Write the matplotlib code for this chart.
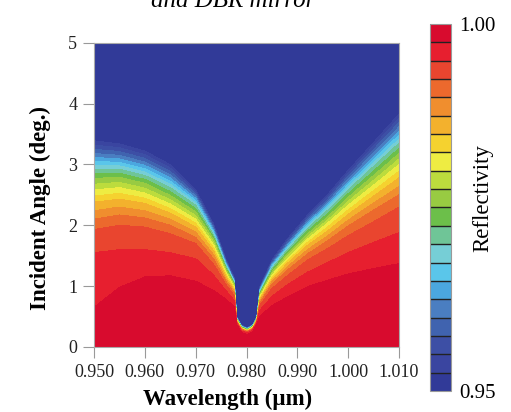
import numpy as np
import matplotlib
matplotlib.use("Agg")
import matplotlib.pyplot as plt
from matplotlib.colors import ListedColormap, BoundaryNorm
import matplotlib.cm as cm

plt.rcParams['font.family'] = 'Liberation Serif'

# wavelength columns (um)
wavelength = [0.950, 0.955, 0.960, 0.965, 0.970, 0.9735, 0.976, 0.9776, 0.9781, 0.9790, 0.9801,
              0.9812, 0.9820, 0.9826, 0.985, 0.988, 0.992, 0.996, 1.000, 1.005, 1.010]

# incident angle (deg.) where the reflectivity crosses each level, per wavelength column
ang_9975 = [0.65, 0.98, 1.15, 1.17, 1.08, 0.93, 0.78, 0.66, 0.36, 0.24, 0.20, 0.25, 0.37, 0.50, 0.68, 0.82, 0.99, 1.10, 1.20, 1.29, 1.37]
ang_9950 = [1.55, 1.60, 1.60, 1.55, 1.45, 1.18, 0.92, 0.76, 0.385, 0.265, 0.225, 0.275, 0.395, 0.60, 0.83, 1.02, 1.23, 1.39, 1.55, 1.72, 1.88]
ang_9925 = [1.93, 2.00, 1.97, 1.86, 1.70, 1.36, 1.02, 0.84, 0.40, 0.28, 0.24, 0.29, 0.41, 0.68, 0.96, 1.17, 1.43, 1.62, 1.83, 2.06, 2.30]
ang_9900 = [2.10, 2.17, 2.12, 2.00, 1.80, 1.45, 1.07, 0.88, 0.41, 0.29, 0.25, 0.30, 0.42, 0.725, 1.03, 1.26, 1.53, 1.75, 1.99, 2.25, 2.50]
ang_9850 = [2.38, 2.43, 2.36, 2.20, 1.97, 1.58, 1.15, 0.93, 0.425, 0.30, 0.26, 0.31, 0.435, 0.78, 1.11, 1.37, 1.67, 1.91, 2.18, 2.48, 2.78]
ang_9800 = [2.58, 2.62, 2.53, 2.35, 2.10, 1.68, 1.21, 0.98, 0.44, 0.31, 0.27, 0.32, 0.45, 0.82, 1.18, 1.45, 1.77, 2.04, 2.33, 2.66, 3.00]
ang_9750 = [2.77, 2.79, 2.69, 2.49, 2.22, 1.77, 1.27, 1.02, 0.45, 0.32, 0.28, 0.33, 0.46, 0.86, 1.23, 1.53, 1.86, 2.14, 2.46, 2.82, 3.18]
ang_9700 = [2.92, 2.92, 2.82, 2.62, 2.33, 1.84, 1.31, 1.05, 0.46, 0.33, 0.29, 0.34, 0.47, 0.895, 1.29, 1.59, 1.95, 2.25, 2.58, 2.97, 3.35]
ang_9600 = [3.18, 3.15, 3.04, 2.83, 2.48, 1.95, 1.38, 1.10, 0.48, 0.345, 0.305, 0.355, 0.485, 0.945, 1.37, 1.69, 2.07, 2.39, 2.76, 3.19, 3.62]
ang_9500 = [3.46, 3.40, 3.28, 3.05, 2.62, 2.05, 1.45, 1.15, 0.50, 0.36, 0.32, 0.37, 0.50, 1.00, 1.45, 1.80, 2.20, 2.55, 2.95, 3.42, 3.90]

# reflectivity of each row: normal incidence, the crossings above, top of the axis
row_refl = [1.0, 0.9975, 0.995, 0.9925, 0.99, 0.985, 0.98, 0.975, 0.97, 0.96, 0.95, 0.90]

band_colors = ['#313a98', '#3a45a0', '#3d4fa5', '#4063af', '#4a7ec1', '#4ba7df', '#5ac6ea',
               '#76ced6', '#6fc597', '#6cbf4a', '#98cb42', '#bcdc3d', '#eeec42', '#f5d22f',
               '#f3b12d', '#f08e2e', '#ec692d', '#e9452f', '#e71f2f', '#d80b2e']

n = len(wavelength)
angles = np.vstack([np.zeros(n), ang_9975, ang_9950, ang_9925, ang_9900, ang_9850, ang_9800,
                    ang_9750, ang_9700, ang_9600, ang_9500, np.full(n, 5.0)])
X = np.tile(wavelength, (len(row_refl), 1))
Z = np.tile(np.array(row_refl)[:, None], (1, n))

bounds = np.linspace(0.95, 1.0, 21)
fill_levels = np.concatenate([[0.89], bounds[1:]])

fig = plt.figure(figsize=(5.11, 4.12), dpi=100)
ax = fig.add_axes([0.184, 0.158, 0.597, 0.738])
ax.contourf(X, angles, Z, levels=fill_levels, colors=band_colors)

ax.set_xlim(0.95, 1.01)
ax.set_ylim(0, 5)
ax.set_xticks([0.95, 0.96, 0.97, 0.98, 0.99, 1.00, 1.01])
ax.set_xticklabels(['0.950', '0.960', '0.970', '0.980', '0.990', '1.000', '1.010'])
ax.set_yticks([0, 1, 2, 3, 4, 5])
ax.tick_params(direction='out', length=8, color='#999999', labelsize=13, labelcolor='#222222', pad=4)
for s in ax.spines.values():
    s.set_color('#aaaaaa')
    s.set_linewidth(0.8)

# axis titles sit a little off-centre in the original figure
fig.text(228 / 511, 1 - 405 / 412, 'Wavelength (\u00b5m)', fontsize=16.5, fontweight='bold',
         ha='center', va='baseline')
fig.text(40 / 511, 1 - 208 / 412, 'Incident Angle (deg.)', fontsize=16.5, fontweight='bold',
         rotation=90, ha='center', va='center')

cax = fig.add_axes([0.8415, 0.051, 0.041, 0.891])
sm = cm.ScalarMappable(norm=BoundaryNorm(bounds, 20), cmap=ListedColormap(band_colors))
cb = fig.colorbar(sm, cax=cax, drawedges=True)
cb.dividers.set_color('#222222')
cb.dividers.set_linewidth(1.0)
cb.outline.set_edgecolor('#999999')
cb.set_ticks([0.95, 1.0])
cb.set_ticklabels(['0.95', '1.00'])
cax.minorticks_off()
cax.tick_params(which='both', length=0, labelsize=15, pad=6)

fig.text(483 / 511, 1 - 198 / 412, 'Reflectivity', rotation=90, fontsize=16.5, ha='center', va='center')
fig.text(233 / 511, 0.983, 'and DBR mirror', style='italic', fontsize=18, ha='center', va='baseline')

fig.savefig('out.png', dpi=100)
